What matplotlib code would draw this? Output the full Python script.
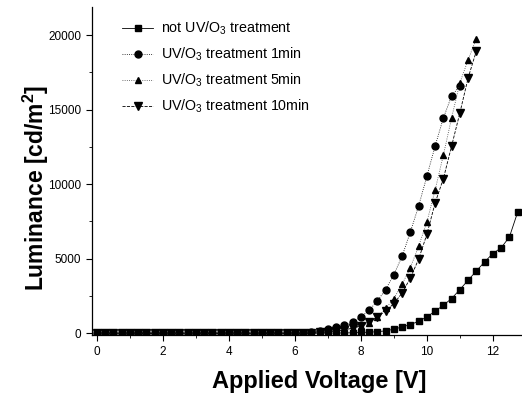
import matplotlib
matplotlib.use("Agg")
import matplotlib.pyplot as plt
from matplotlib.ticker import MultipleLocator

plt.rcParams['font.family'] = ['Liberation Sans', 'DejaVu Sans']
plt.rcParams['mathtext.fontset'] = 'custom'
plt.rcParams['mathtext.rm'] = 'Liberation Sans'
plt.rcParams['mathtext.it'] = 'Liberation Sans:italic'
plt.rcParams['mathtext.bf'] = 'Liberation Sans:bold'

# applied voltage (V), 0.25 V steps
voltage = [0.0, 0.25, 0.5, 0.75, 1.0, 1.25, 1.5, 1.75, 2.0, 2.25, 2.5, 2.75,
           3.0, 3.25, 3.5, 3.75, 4.0, 4.25, 4.5, 4.75, 5.0, 5.25, 5.5, 5.75,
           6.0, 6.25, 6.5, 6.75, 7.0, 7.25, 7.5, 7.75, 8.0, 8.25, 8.5, 8.75,
           9.0, 9.25, 9.5, 9.75, 10.0, 10.25, 10.5, 10.75, 11.0, 11.25, 11.5,
           11.75, 12.0, 12.25, 12.5, 12.75]

# luminance (cd/m2)
lum_none = [0, 0, 0, 0, 0, 0, 0, 0, 0, 0, 0, 0,
            0, 0, 0, 0, 0, 0, 0, 0, 0, 0, 0, 0,
            0, 0, 0, 5, 10, 15, 20, 30, 50, 70, 100, 160,
            270, 420, 580, 800, 1100, 1480, 1880, 2330, 2930, 3560, 4180,
            4790, 5350, 5730, 6460, 8120]
lum_1min = [0, 0, 0, 0, 0, 0, 0, 0, 0, 0, 0, 0,
            0, 0, 0, 0, 0, 0, 0, 0, 0, 0, 0, 0,
            20, 40, 80, 150, 250, 400, 540, 740, 1090, 1540, 2170, 2930,
            3940, 5170, 6800, 8540, 10540, 12570, 14450, 15930, 16600]
lum_5min = [0, 0, 0, 0, 0, 0, 0, 0, 0, 0, 0, 0,
            0, 0, 0, 0, 0, 0, 0, 0, 0, 0, 0, 0,
            10, 20, 40, 70, 100, 150, 220, 320, 470, 690, 1090, 1660,
            2330, 3290, 4410, 5840, 7470, 9620, 11950, 14470, 16800, 18360, 19770]
lum_10min = [0, 0, 0, 0, 0, 0, 0, 0, 0, 0, 0, 0,
             0, 0, 0, 0, 0, 0, 0, 0, 0, 0, 0, 0,
             5, 15, 30, 50, 90, 150, 230, 340, 510, 780, 1090, 1500,
             1990, 2700, 3710, 4970, 6640, 8750, 10380, 12570, 14790, 17140, 18950]

labels = [r'not UV/O$_3$ treatment', r'UV/O$_3$ treatment 1min',
          r'UV/O$_3$ treatment 5min', r'UV/O$_3$ treatment 10min']

fig = plt.figure(figsize=(5.22, 3.99), dpi=100)
ax = fig.add_axes([0.176, 0.160, 0.822, 0.822])

ax.plot(voltage[:len(lum_none)], lum_none, color='black', lw=0.6, ls='-',
        marker='s', ms=4.5, label=labels[0])
ax.plot(voltage[:len(lum_1min)], lum_1min, color='black', lw=0.6, ls=':',
        marker='o', ms=5, label=labels[1])
ax.plot(voltage[:len(lum_5min)], lum_5min, color='#444444', lw=0.6, ls=':',
        marker='^', ms=5, mfc='black', mec='black', label=labels[2])
ax.plot(voltage[:len(lum_10min)], lum_10min, color='black', lw=0.6, ls='--',
        marker='v', ms=5.5, label=labels[3])

ax.set_xlim(-0.15, 12.85)
ax.set_ylim(-130, 21880)
ax.xaxis.set_major_locator(MultipleLocator(2))
ax.xaxis.set_minor_locator(MultipleLocator(1))
ax.yaxis.set_major_locator(MultipleLocator(5000))
ax.yaxis.set_minor_locator(MultipleLocator(2500))
ax.tick_params(which='major', direction='out', length=4, width=0.8, labelsize=8.5)
ax.tick_params(which='minor', direction='out', length=2, width=0.6)

ax.spines['top'].set_visible(False)
ax.spines['right'].set_visible(False)
ax.spines['left'].set_linewidth(0.9)
ax.spines['bottom'].set_linewidth(0.9)

ax.set_xlabel('Applied Voltage [V]', fontsize=17, fontweight='bold')
ax.set_ylabel(r'Luminance [cd/m$^\mathbf{2}$]', fontsize=16.5, fontweight='bold')
ax.xaxis.set_label_coords(0.53, -0.105)
ax.yaxis.set_label_coords(-0.095, 0.45)

ax.legend(loc='upper left', bbox_to_anchor=(0.04, 1.0), frameon=False,
          fontsize=10.3, handlelength=2.2, labelspacing=0.6, handletextpad=0.5)

fig.savefig('out.png', dpi=100)
